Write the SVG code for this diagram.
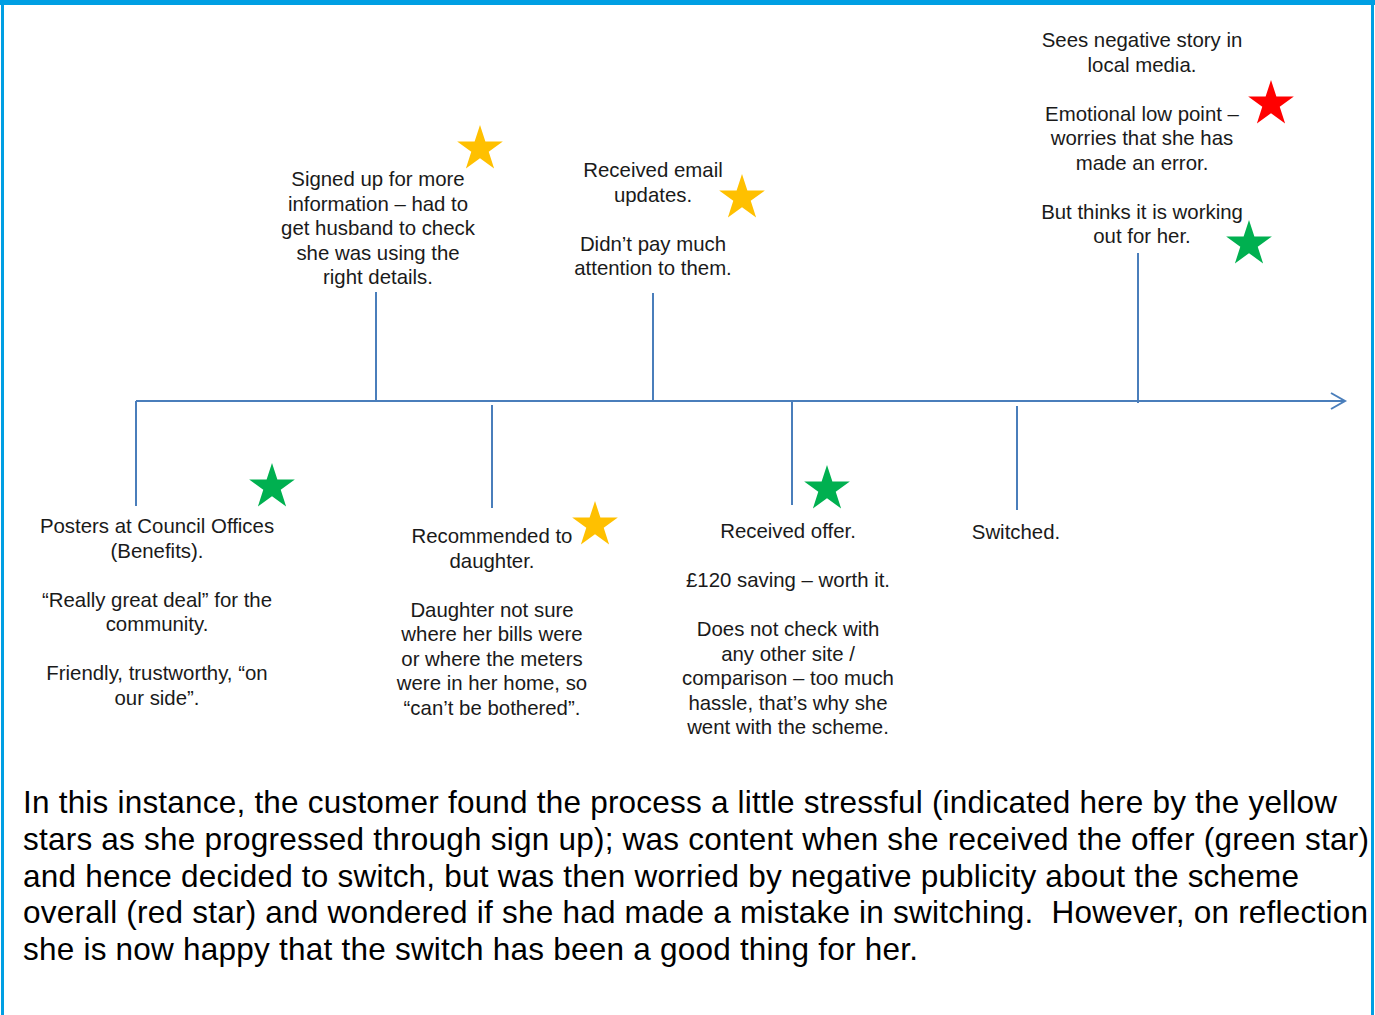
<svg xmlns="http://www.w3.org/2000/svg" width="1375" height="1015" viewBox="0 0 1375 1015">
  <style>
    .frame { fill: #009FE3; }
    .axis { fill: none; stroke: #4A7EBB; stroke-width: 2; }
    .lbl { font-family: "Liberation Sans", Arial, sans-serif; font-size: 20.4px; fill: #1a1a1a; text-anchor: middle; }
    .para { font-family: "Liberation Sans", Arial, sans-serif; font-size: 31.5px; fill: #000; }
    .yellow { fill: #FFC000; }
    .green { fill: #00B050; }
    .red { fill: #FF0000; }
  </style>
  <defs>
    <!-- five-point star, outer radius 24, centred on the origin -->
    <path id="star" d="M0,-24 L5.39,-7.42 L22.83,-7.42 L8.72,2.83 L14.11,19.42 L0,9.17 L-14.11,19.42 L-8.72,2.83 L-22.83,-7.42 L-5.39,-7.42 Z"/>
  </defs>

  <rect width="1375" height="1015" fill="#fff"/>

  <!-- blue frame -->
  <g id="frame">
    <rect class="frame" x="0" y="0" width="1375" height="5"/>
    <rect class="frame" x="1" y="0" width="3" height="1015"/>
    <rect class="frame" x="1371" y="0" width="3" height="1015"/>
  </g>

  <!-- timeline and stems -->
  <g id="connectors">
    <path class="axis" d="M136,401 H1344"/>
    <path class="axis" d="M1331,393 L1345,401 L1331,409"/>
    <path class="axis" d="M136,401 V506"/>
    <path class="axis" d="M376,292 V401"/>
    <path class="axis" d="M492,405 V508"/>
    <path class="axis" d="M653,293 V402"/>
    <path class="axis" d="M792,402 V505"/>
    <path class="axis" d="M1017,406 V510"/>
    <path class="axis" d="M1138,253 V403"/>
  </g>

  <g id="posters">
    <text class="lbl" x="157" y="533">Posters at Council Offices</text>
    <text class="lbl" x="157" y="557.5">(Benefits).</text>
    <text class="lbl" x="157" y="606.5">“Really great deal” for the</text>
    <text class="lbl" x="157" y="631">community.</text>
    <text class="lbl" x="157" y="680">Friendly, trustworthy, “on</text>
    <text class="lbl" x="157" y="704.5">our side”.</text>
    <use href="#star" class="green" x="272" y="487"/>
  </g>

  <g id="signed-up">
    <text class="lbl" x="378" y="186">Signed up for more</text>
    <text class="lbl" x="378" y="210.5">information – had to</text>
    <text class="lbl" x="378" y="235">get husband to check</text>
    <text class="lbl" x="378" y="259.5">she was using the</text>
    <text class="lbl" x="378" y="284">right details.</text>
    <use href="#star" class="yellow" x="480" y="149"/>
  </g>

  <g id="recommended">
    <text class="lbl" x="492" y="543">Recommended to</text>
    <text class="lbl" x="492" y="567.5">daughter.</text>
    <text class="lbl" x="492" y="616.5">Daughter not sure</text>
    <text class="lbl" x="492" y="641">where her bills were</text>
    <text class="lbl" x="492" y="665.5">or where the meters</text>
    <text class="lbl" x="492" y="690">were in her home, so</text>
    <text class="lbl" x="492" y="714.5">“can’t be bothered”.</text>
    <use href="#star" class="yellow" x="595" y="525"/>
  </g>

  <g id="email-updates">
    <text class="lbl" x="653" y="177">Received email</text>
    <text class="lbl" x="653" y="201.5">updates.</text>
    <text class="lbl" x="653" y="250.5">Didn’t pay much</text>
    <text class="lbl" x="653" y="275">attention to them.</text>
    <use href="#star" class="yellow" x="742" y="198"/>
  </g>

  <g id="offer">
    <text class="lbl" x="788" y="538">Received offer.</text>
    <text class="lbl" x="788" y="587">£120 saving – worth it.</text>
    <text class="lbl" x="788" y="636">Does not check with</text>
    <text class="lbl" x="788" y="660.5">any other site /</text>
    <text class="lbl" x="788" y="685">comparison – too much</text>
    <text class="lbl" x="788" y="709.5">hassle, that’s why she</text>
    <text class="lbl" x="788" y="734">went with the scheme.</text>
    <use href="#star" class="green" x="827" y="489"/>
  </g>

  <g id="switched">
    <text class="lbl" x="1016" y="539">Switched.</text>
  </g>

  <g id="media-story">
    <text class="lbl" x="1142" y="47">Sees negative story in</text>
    <text class="lbl" x="1142" y="71.5">local media.</text>
    <text class="lbl" x="1142" y="120.5">Emotional low point –</text>
    <text class="lbl" x="1142" y="145">worries that she has</text>
    <text class="lbl" x="1142" y="169.5">made an error.</text>
    <text class="lbl" x="1142" y="218.5">But thinks it is working</text>
    <text class="lbl" x="1142" y="243">out for her.</text>
    <use href="#star" class="red" x="1271" y="104"/>
    <use href="#star" class="green" x="1249" y="244"/>
  </g>

  <g id="summary">
    <text class="para" x="23" y="813" textLength="1314" lengthAdjust="spacing">In this instance, the customer found the process a little stressful (indicated here by the yellow</text>
    <text class="para" x="23" y="850" textLength="1346" lengthAdjust="spacing">stars as she progressed through sign up); was content when she received the offer (green star)</text>
    <text class="para" x="23" y="887" textLength="1276" lengthAdjust="spacing">and hence decided to switch, but was then worried by negative publicity about the scheme</text>
    <text class="para" x="23" y="923" textLength="1345" lengthAdjust="spacing" xml:space="preserve">overall (red star) and wondered if she had made a mistake in switching.  However, on reflection</text>
    <text class="para" x="23" y="960" textLength="895" lengthAdjust="spacing">she is now happy that the switch has been a good thing for her.</text>
  </g>
</svg>
